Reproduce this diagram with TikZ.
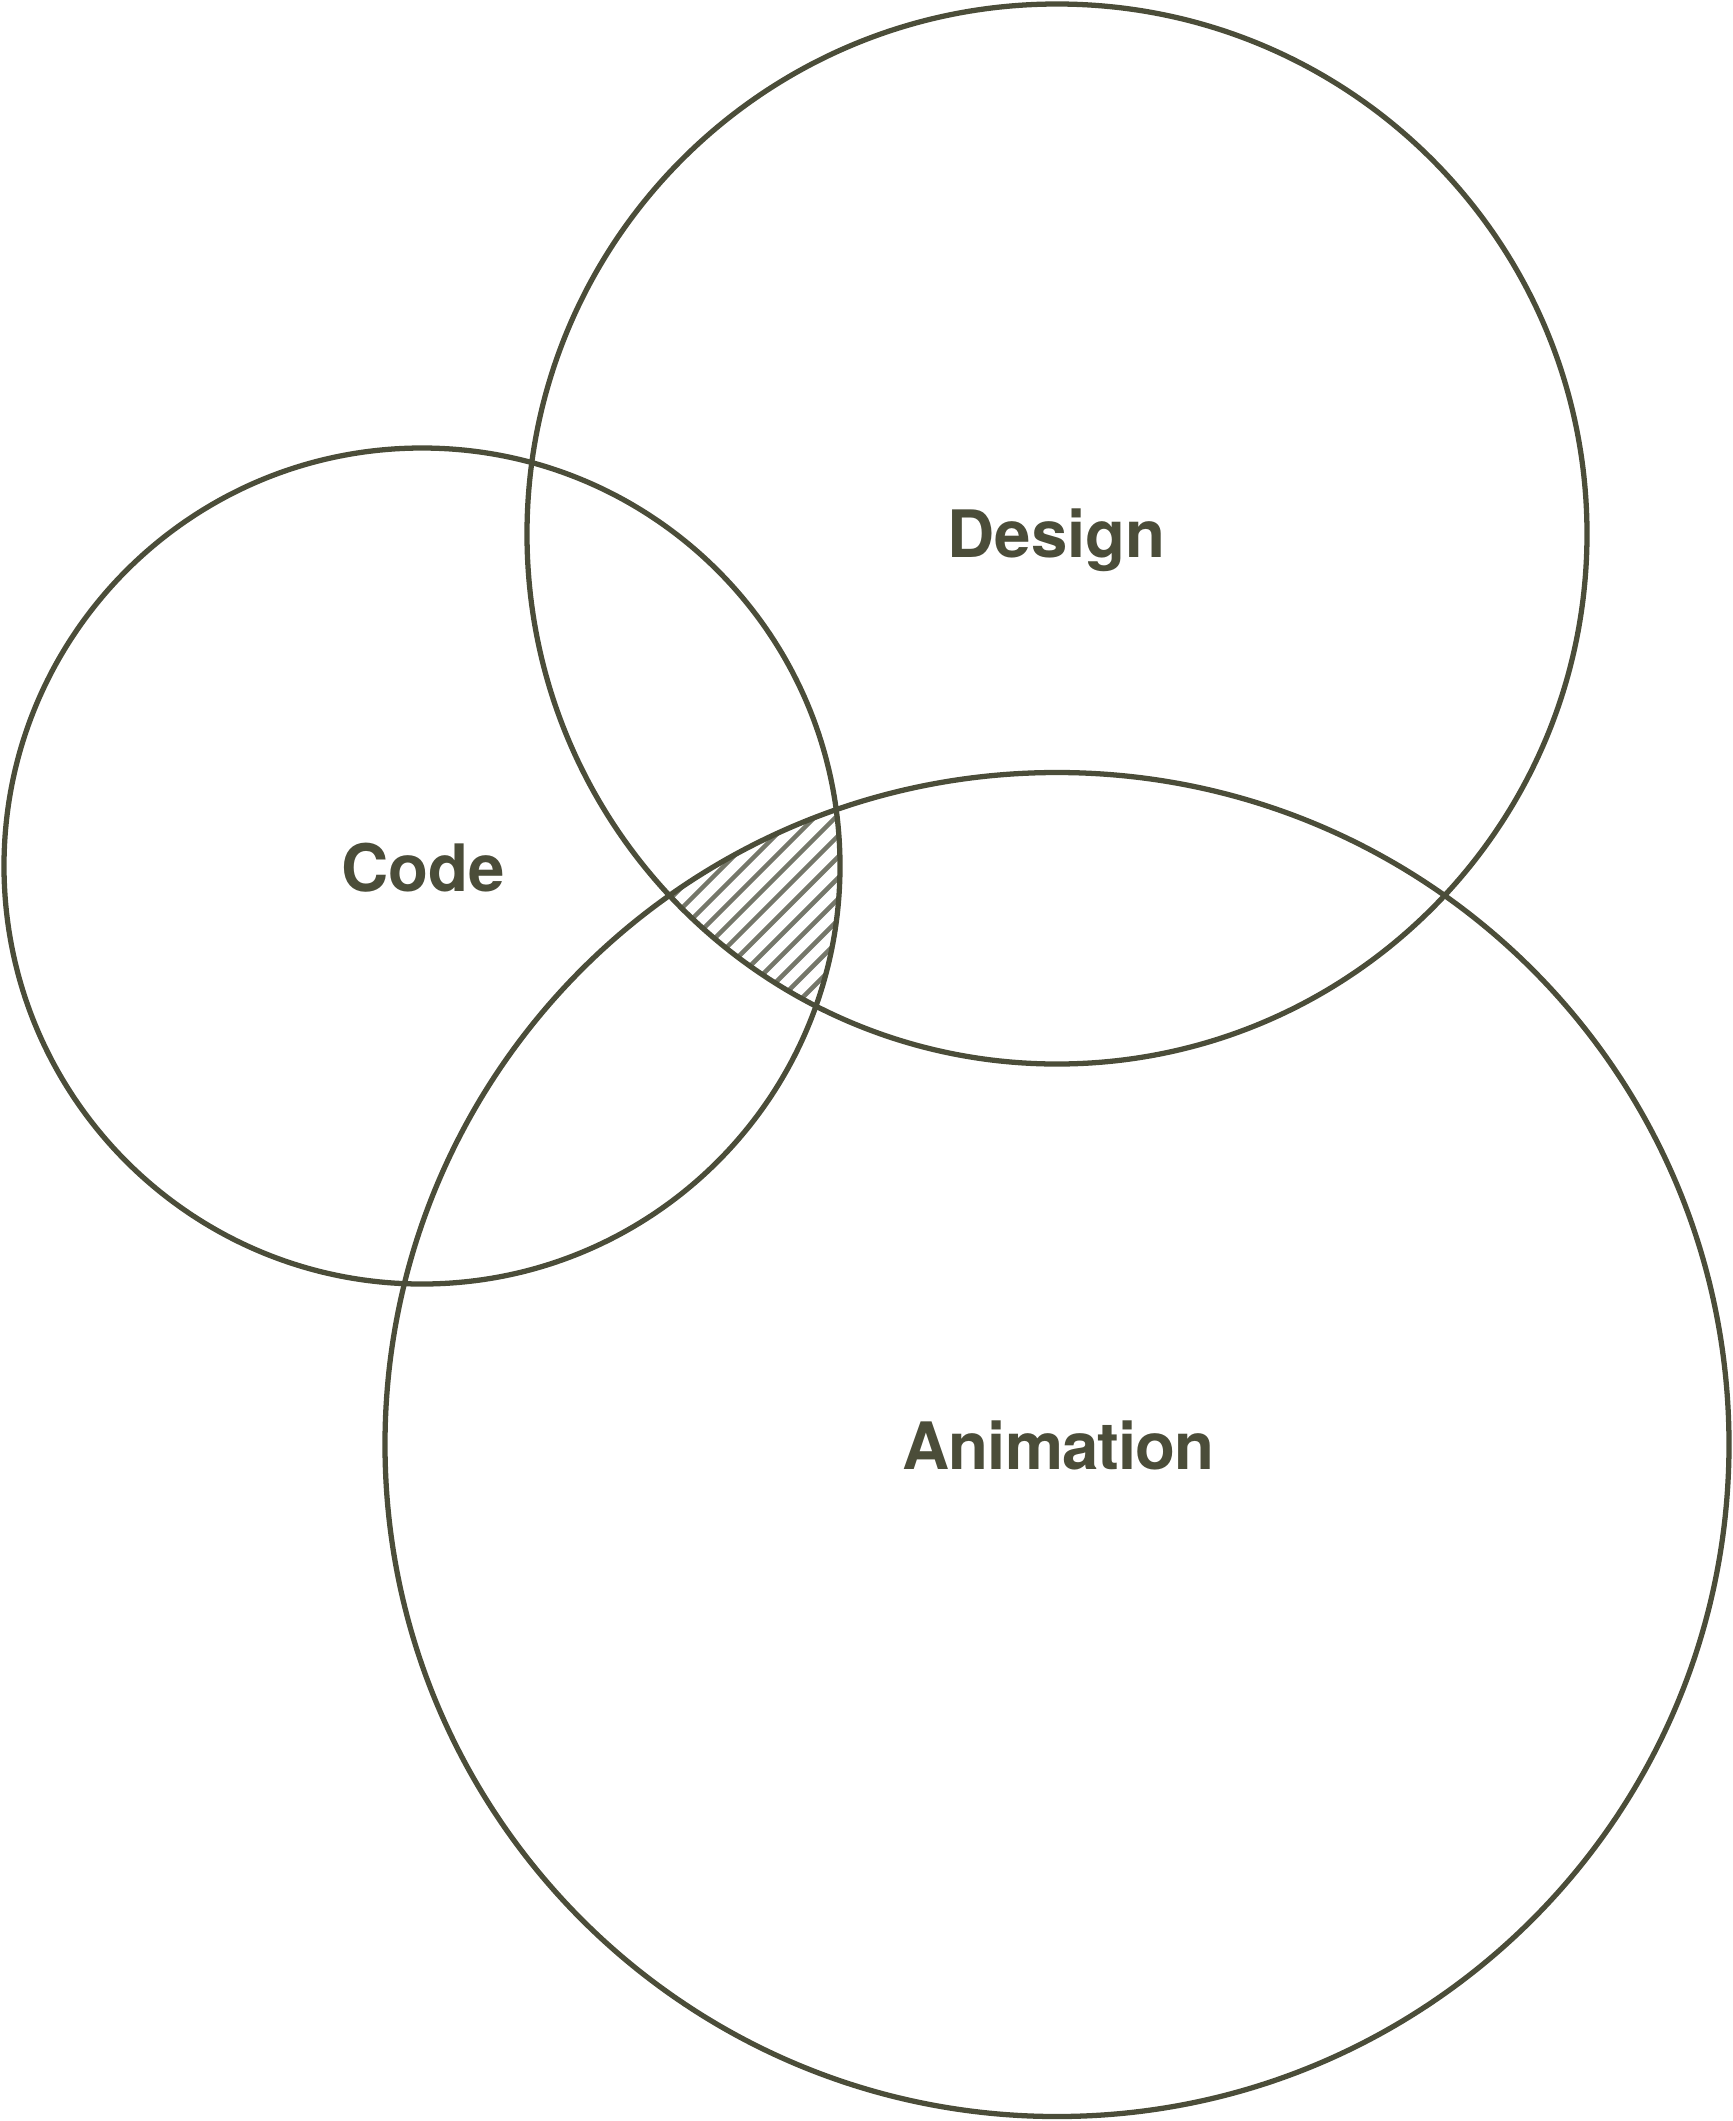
\documentclass[tikz,border=0pt]{standalone}
\usepackage{fontspec}
\setmainfont{TeX Gyre Heros}
\definecolor{olive}{HTML}{4B4D39}
\definecolor{hatchgrey}{HTML}{75776A}
\begin{document}
\begin{tikzpicture}
	\useasboundingbox (0,0) rectangle (17.33,-21.21);
	\coordinate (C) at (4.22,-8.66);
	\coordinate (D) at (10.57,-5.34);
	\coordinate (A) at (10.57,-14.445);
	
	% hatched part shared by all three
	\begin{scope}
		\clip (C) circle (4.18);
		\clip (D) circle (5.30);
		\clip (A) circle (6.72);
		\foreach \k in {-4,...,18}
			\draw [hatchgrey,line width=1.3pt] (6.4,{-11.6+\k*0.21}) -- ++(2.6,2.6);
	\end{scope}
	
	\begin{scope}[every path/.style={draw=olive,line width=1.5pt}]
		\path (C) circle (4.18);
		\path (D) circle (5.30);
		\path (A) circle (6.72);
	\end{scope}
	
	\begin{scope}[every node/.style={text=olive,anchor=base,font=\fontsize{18.6}{22}\selectfont\bfseries}]
		\node (code) at (4.23,-8.91) {Code};
		\node (design) at (10.565,-5.57) {Design};
		\node (anim) at (10.585,-14.69) {\addfontfeature{LetterSpace=-1.5}Animation};
	\end{scope}
\end{tikzpicture}
\end{document}
